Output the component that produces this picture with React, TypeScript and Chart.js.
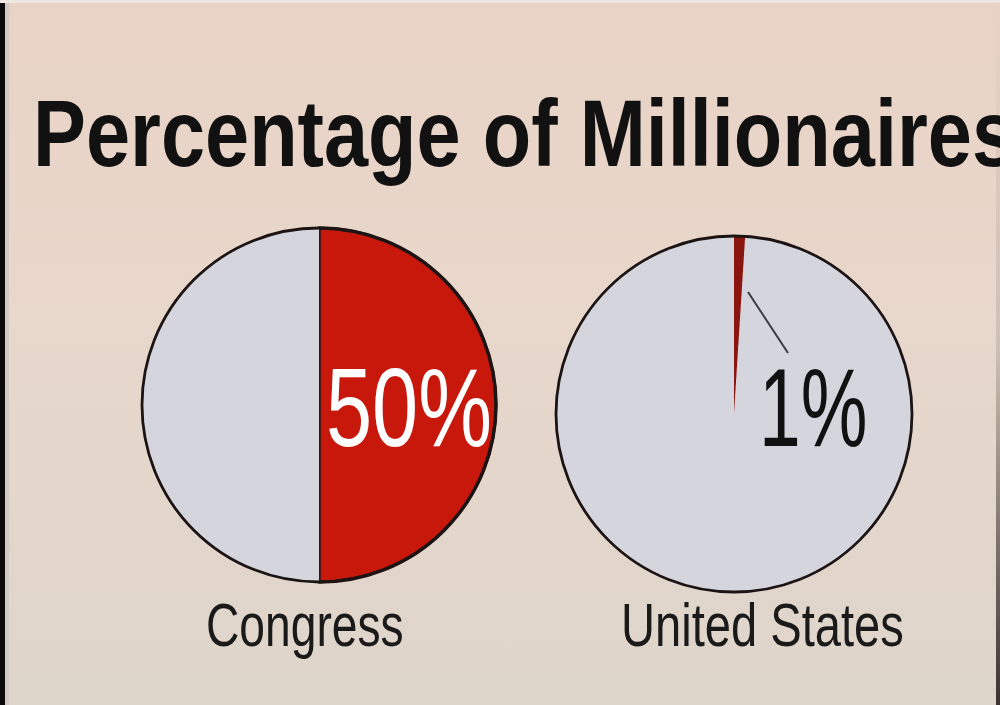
import React, { useEffect, useRef } from "react";
import { Chart, registerables } from "chart.js";

Chart.register(...registerables);

const title = "Percentage of Millionaires";
const categories = ["Congress", "United States"];
const millionairePct = [50, 1];
const otherPct = [50, 99];

const RED = "#c8180c";
const DARK_RED = "#8a1410";
const GREY = "#d5d5dd";

type PieProps = {
  idx: number;
  cx: number;
  cy: number;
  r: number;
  sliceBorder: string;
  sliceBorderWidth: number;
  restBorderWidth: number;
  sliceColor: string;
  leader: boolean;
};

function Pie({ idx, cx, cy, r, sliceBorder, sliceBorderWidth, restBorderWidth, sliceColor, leader }: PieProps) {
  const ref = useRef<HTMLCanvasElement | null>(null);
  const size = 2 * r + 20;
  useEffect(() => {
    if (!ref.current) return;
    const outline = {
      id: "outline" + idx,
      afterDatasetsDraw(chart: any) {
        const meta = chart.getDatasetMeta(0);
        const arc = meta.data[0] as any;
        if (!arc) return;
        const { x, y, outerRadius } = arc.getProps(["x", "y", "outerRadius"], true);
        const ctx = chart.ctx;
        ctx.save();
        ctx.beginPath();
        ctx.arc(x, y, outerRadius, 0, Math.PI * 2);
        ctx.lineWidth = 2.8;
        ctx.strokeStyle = "#1c1414";
        ctx.stroke();
        if (leader) {
          ctx.beginPath();
          ctx.moveTo(x + 14, y - 122);
          ctx.lineTo(x + 54, y - 61);
          ctx.lineWidth = 2;
          ctx.strokeStyle = "#3a3a44";
          ctx.stroke();
        }
        ctx.restore();
      },
    };
    const chart = new Chart(ref.current, {
      type: "pie",
      data: {
        labels: ["Millionaires", "Others"],
        datasets: [
          {
            data: [millionairePct[idx], otherPct[idx]],
            backgroundColor: [sliceColor, GREY],
            borderColor: [sliceBorder, GREY],
            borderWidth: [sliceBorderWidth, restBorderWidth],
            radius: r,
            hoverOffset: 0,
          } as any,
        ],
      },
      options: {
        responsive: false,
        animation: false,
        events: [],
        layout: { padding: 0 },
        plugins: { legend: { display: false }, tooltip: { enabled: false }, title: { display: false } },
      },
      plugins: [outline],
    });
    return () => chart.destroy();
  }, []);
  return (
    <canvas
      ref={ref}
      width={size}
      height={size}
      style={{ position: "absolute", left: cx - size / 2, top: cy - size / 2, width: size, height: size }}
    />
  );
}

export default function App() {
  useEffect(() => {
    document.body.style.margin = "0";
  }, []);
  const font = "'Liberation Sans', Arial, sans-serif";
  const txt = (s: React.CSSProperties): React.CSSProperties => ({
    position: "absolute",
    whiteSpace: "nowrap",
    fontFamily: font,
    transformOrigin: "left top",
    lineHeight: 1,
    ...s,
  });
  return (
    <div
      style={{
        position: "fixed",
        left: 0,
        top: 0,
        width: 1000,
        height: 705,
        overflow: "hidden",
        background: "linear-gradient(180deg, #e9d3c6 0%, #e8d7cb 45%, #ded5cb 100%)",
      }}
    >
      <div style={{ position: "absolute", left: 0, top: 0, width: 5, height: 705, background: "#0c0a0a" }} />
      <div style={{ position: "absolute", left: 5, top: 0, width: 4, height: 705, background: "#d2c9c2" }} />
      <div
        style={{
          position: "absolute",
          left: 996,
          top: 0,
          width: 4,
          height: 705,
          background: "linear-gradient(180deg, rgba(60,52,48,0) 0%, rgba(60,52,48,0.15) 50%, rgba(40,34,30,0.9) 100%)",
        }}
      />
      <div style={{ position: "absolute", left: 0, top: 0, width: 1000, height: 3, background: "#eee6e2" }} />

      <div
        style={txt({
          left: 33,
          top: 86,
          fontSize: 95,
          fontWeight: 700,
          color: "#111",
          transform: "scaleX(0.835)",
        })}
      >
        {title}
      </div>

      <Pie idx={0} cx={319} cy={405} r={177} sliceColor={RED} sliceBorder="#2a1614" sliceBorderWidth={3.5} restBorderWidth={0} leader={false} />
      <Pie idx={1} cx={734} cy={414} r={178} sliceColor={DARK_RED} sliceBorder={DARK_RED} sliceBorderWidth={1} restBorderWidth={0} leader={true} />

      <div style={txt({ left: 326, top: 352, fontSize: 112, color: "#fff", transform: "scaleX(0.74)" })}>
        {millionairePct[0]}%
      </div>
      <div style={txt({ left: 759, top: 352, fontSize: 112, color: "#111", transform: "scaleX(0.67)" })}>
        {millionairePct[1]}%
      </div>

      <div style={txt({ left: 206, top: 594, fontSize: 62, color: "#1a1a1a", transform: "scaleX(0.745)" })}>
        {categories[0]}
      </div>
      <div style={txt({ left: 621, top: 594, fontSize: 62, color: "#1a1a1a", transform: "scaleX(0.76)" })}>
        {categories[1]}
      </div>
    </div>
  );
}
